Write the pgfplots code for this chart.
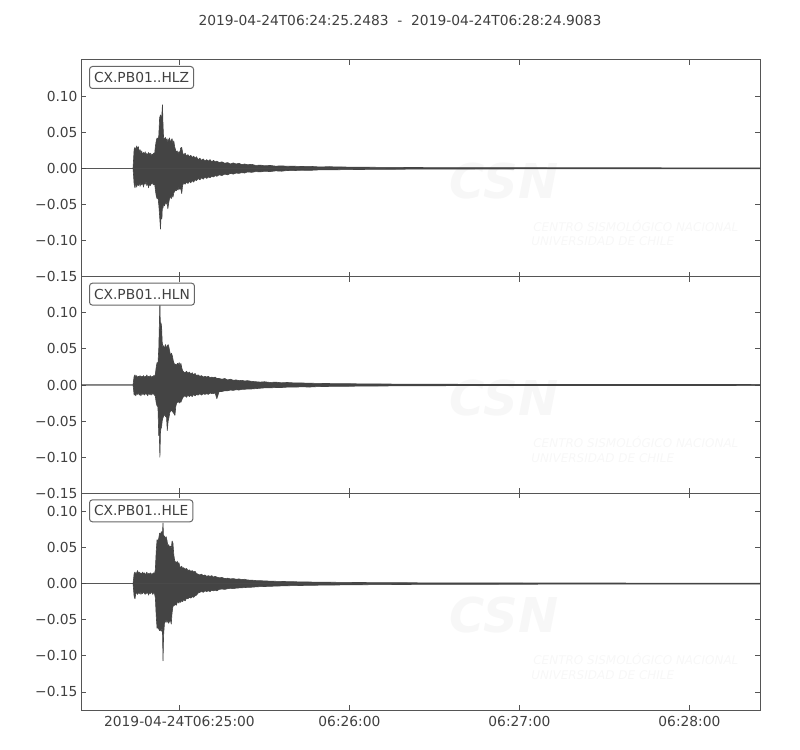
\documentclass[border=0pt]{standalone}
\usepackage{fontspec}
\setmainfont{DejaVu Sans}
\usepackage{pgfplots}
\pgfplotsset{compat=1.18}
\usepackage{pgfplotstable}

\definecolor{seiscol}{HTML}{444444}
\definecolor{framecol}{HTML}{555555}
\definecolor{txtcol}{HTML}{404040}
\definecolor{boxcol}{HTML}{666666}
\definecolor{wmcol}{HTML}{F7F7F7}

% envelope of each trace: seconds after 06:24:00, upper, lower
\pgfplotstableread{
t up lo
25.2483 0 0
43.6 0 0
43.8 0.012 -0.010
44.0 0.026 -0.022
44.3 0.029 -0.027
44.6 0.024 -0.020
44.9 0.031 -0.026
45.2 0.027 -0.021
45.5 0.030 -0.024
45.8 0.022 -0.019
46.1 0.026 -0.025
46.4 0.020 -0.020
46.7 0.024 -0.023
47.0 0.018 -0.019
47.3 0.022 -0.026
47.6 0.019 -0.020
47.9 0.023 -0.022
48.2 0.018 -0.018
48.5 0.021 -0.024
48.8 0.017 -0.020
49.1 0.022 -0.027
49.4 0.019 -0.021
49.7 0.021 -0.024
50.0 0.017 -0.020
50.3 0.020 -0.022
50.6 0.018 -0.019
50.9 0.021 -0.023
51.2 0.019 -0.020
51.5 0.030 -0.030
51.8 0.038 -0.038
52.1 0.042 -0.042
52.4 0.040 -0.040
52.7 0.045 -0.050
53.0 0.070 -0.066
53.3 0.074 -0.084
53.6 0.066 -0.060
53.8 0.075 -0.070
54.0 0.088 -0.050
54.2 0.060 -0.055
54.4 0.042 -0.048
54.7 0.040 -0.052
55.0 0.043 -0.046
55.3 0.038 -0.050
55.6 0.041 -0.045
55.9 0.036 -0.056
56.2 0.040 -0.048
56.5 0.042 -0.042
56.8 0.035 -0.038
57.1 0.039 -0.042
57.4 0.041 -0.036
57.7 0.034 -0.040
58.0 0.038 -0.034
58.3 0.030 -0.032
58.6 0.026 -0.030
58.9 0.022 -0.031
59.2 0.024 -0.028
59.5 0.020 -0.030
59.8 0.023 -0.026
60.1 0.021 -0.029
60.4 0.028 -0.027
60.8 0.029 -0.035
61.1 0.022 -0.024
61.5 0.018 -0.020
62.0 0.021 -0.022
62.5 0.017 -0.019
63.0 0.019 -0.021
63.5 0.016 -0.018
64.0 0.018 -0.020
64.5 0.015 -0.017
65.0 0.017 -0.019
65.5 0.014 -0.016
66.0 0.016 -0.017
66.6 0.012 -0.014
67.2 0.014 -0.016
67.8 0.011 -0.013
68.4 0.013 -0.015
69.0 0.010 -0.012
69.6 0.012 -0.014
70.2 0.010 -0.012
70.8 0.012 -0.013
71.4 0.009 -0.011
72.0 0.011 -0.012
72.6 0.009 -0.010
73.2 0.010 -0.011
74.0 0.008 -0.009
75.0 0.009 -0.010
76.0 0.007 -0.008
77.0 0.008 -0.009
78.0 0.006 -0.007
79.0 0.0075 -0.008
80.0 0.006 -0.0065
81.0 0.007 -0.007
82.0 0.005 -0.006
83.0 0.006 -0.0065
84.0 0.005 -0.005
85.5 0.0055 -0.0055
87.0 0.004 -0.0045
88.5 0.0045 -0.005
90.0 0.0035 -0.004
92.0 0.004 -0.0045
94.0 0.003 -0.0035
96.0 0.0035 -0.004
98.0 0.0028 -0.003
100 0.003 -0.0032
103 0.0025 -0.0026
106 0.0028 -0.0028
109 0.002 -0.0022
113 0.0022 -0.0022
118 0.0018 -0.0018
124 0.0016 -0.0016
130 0.0014 -0.0014
140 0.0012 -0.0012
150 0.001 -0.001
170 0.0009 -0.0009
190 0.0008 -0.0008
210 0.0008 -0.0008
240 0.0007 -0.0007
264.9083 0.0006 -0.0006
}\hlz

\pgfplotstableread{
t up lo
25.2483 0 0
43.6 0 0
43.8 0.006 -0.006
44.0 0.012 -0.014
44.3 0.014 -0.012
44.6 0.011 -0.015
44.9 0.013 -0.011
45.2 0.010 -0.013
45.5 0.012 -0.010
45.8 0.011 -0.014
46.1 0.013 -0.012
46.4 0.010 -0.015
46.7 0.012 -0.011
47.0 0.011 -0.013
47.3 0.013 -0.012
47.6 0.010 -0.014
47.9 0.012 -0.011
48.2 0.011 -0.013
48.5 0.014 -0.012
48.8 0.010 -0.015
49.1 0.012 -0.011
49.4 0.011 -0.013
49.7 0.013 -0.012
50.0 0.010 -0.014
50.3 0.012 -0.011
50.6 0.011 -0.013
50.9 0.013 -0.012
51.2 0.012 -0.014
51.5 0.015 -0.016
51.8 0.025 -0.025
52.1 0.031 -0.029
52.4 0.029 -0.030
52.7 0.050 -0.070
52.9 0.083 -0.070
53.1 0.118 -0.100
53.3 0.070 -0.065
53.5 0.086 -0.060
53.7 0.080 -0.058
53.9 0.060 -0.050
54.2 0.050 -0.045
54.5 0.055 -0.043
54.8 0.048 -0.040
55.1 0.056 -0.044
55.4 0.050 -0.042
55.7 0.054 -0.063
56.0 0.056 -0.050
56.3 0.052 -0.045
56.6 0.046 -0.038
56.9 0.040 -0.036
57.2 0.044 -0.035
57.5 0.040 -0.037
57.8 0.034 -0.038
58.1 0.030 -0.040
58.4 0.028 -0.042
58.7 0.029 -0.030
59.0 0.027 -0.025
59.3 0.030 -0.024
59.6 0.028 -0.022
59.9 0.031 -0.025
60.2 0.026 -0.023
60.5 0.030 -0.024
60.8 0.024 -0.021
61.1 0.020 -0.018
61.5 0.018 -0.016
62.0 0.017 -0.015
62.5 0.019 -0.017
63.0 0.016 -0.014
63.5 0.018 -0.016
64.0 0.015 -0.014
64.5 0.017 -0.016
65.0 0.014 -0.013
65.5 0.016 -0.015
66.0 0.013 -0.013
66.6 0.014 -0.014
67.2 0.012 -0.012
67.8 0.013 -0.014
68.4 0.011 -0.012
69.0 0.012 -0.013
69.6 0.011 -0.012
70.2 0.012 -0.013
70.8 0.010 -0.011
71.4 0.011 -0.012
72.0 0.010 -0.012
72.6 0.011 -0.011
73.2 0.009 -0.019
74.0 0.009 -0.009
75.0 0.008 -0.009
76.0 0.009 -0.008
77.0 0.007 -0.008
78.0 0.008 -0.007
79.0 0.0065 -0.0075
80.0 0.007 -0.0065
81.0 0.006 -0.007
82.0 0.0065 -0.006
83.0 0.0055 -0.006
84.0 0.006 -0.0055
85.5 0.005 -0.0055
87.0 0.0045 -0.005
88.5 0.004 -0.0045
90.0 0.0045 -0.004
92.0 0.0035 -0.004
94.0 0.004 -0.0035
96.0 0.003 -0.0035
98.0 0.0035 -0.003
100 0.003 -0.003
103 0.0028 -0.0026
106 0.0025 -0.0028
109 0.0022 -0.0022
113 0.002 -0.002
118 0.0018 -0.0018
124 0.0016 -0.0016
130 0.0014 -0.0014
140 0.0012 -0.0012
150 0.001 -0.001
170 0.0009 -0.0009
190 0.0008 -0.0008
210 0.0008 -0.0008
240 0.0007 -0.0007
264.9083 0.0006 -0.0006
}\hln

\pgfplotstableread{
t up lo
25.2483 0 0
43.6 0 0
43.8 0.006 -0.008
44.0 0.014 -0.018
44.3 0.016 -0.021
44.6 0.013 -0.014
44.9 0.015 -0.012
45.2 0.018 -0.015
45.5 0.014 -0.012
45.8 0.016 -0.014
46.1 0.013 -0.011
46.4 0.015 -0.015
46.7 0.012 -0.012
47.0 0.016 -0.014
47.3 0.013 -0.011
47.6 0.015 -0.013
47.9 0.012 -0.015
48.2 0.014 -0.012
48.5 0.016 -0.014
48.8 0.012 -0.011
49.1 0.014 -0.016
49.4 0.013 -0.012
49.7 0.015 -0.014
50.0 0.012 -0.011
50.3 0.014 -0.013
50.6 0.013 -0.015
50.9 0.015 -0.012
51.2 0.013 -0.014
51.5 0.020 -0.020
51.8 0.045 -0.045
52.1 0.061 -0.062
52.4 0.058 -0.060
52.7 0.063 -0.063
53.0 0.070 -0.065
53.3 0.068 -0.064
53.6 0.072 -0.066
53.8 0.070 -0.062
54.0 0.070 -0.064
54.2 0.084 -0.107
54.4 0.062 -0.072
54.7 0.066 -0.055
55.0 0.062 -0.053
55.3 0.065 -0.050
55.6 0.060 -0.054
55.9 0.052 -0.050
56.2 0.054 -0.055
56.5 0.050 -0.052
56.8 0.052 -0.050
57.1 0.048 -0.056
57.4 0.059 -0.040
57.7 0.056 -0.032
58.0 0.040 -0.030
58.3 0.032 -0.030
58.6 0.030 -0.028
58.9 0.028 -0.030
59.2 0.031 -0.026
59.5 0.027 -0.025
59.8 0.029 -0.027
60.1 0.024 -0.024
60.4 0.022 -0.026
60.8 0.024 -0.023
61.1 0.021 -0.025
61.5 0.022 -0.022
62.0 0.020 -0.024
62.5 0.021 -0.020
63.0 0.018 -0.021
63.5 0.019 -0.019
64.0 0.017 -0.020
64.5 0.018 -0.018
65.0 0.016 -0.019
65.5 0.017 -0.017
66.0 0.014 -0.016
66.6 0.013 -0.013
67.2 0.012 -0.012
67.8 0.013 -0.011
68.4 0.011 -0.012
69.0 0.012 -0.010
69.6 0.010 -0.011
70.2 0.011 -0.010
70.8 0.010 -0.011
71.4 0.011 -0.009
72.0 0.009 -0.010
72.6 0.010 -0.009
73.2 0.009 -0.010
74.0 0.008 -0.008
75.0 0.0085 -0.0075
76.0 0.007 -0.008
77.0 0.0075 -0.007
78.0 0.0065 -0.0065
79.0 0.007 -0.007
80.0 0.006 -0.0062
81.0 0.0065 -0.006
82.0 0.0055 -0.0058
83.0 0.006 -0.0055
84.0 0.005 -0.0052
85.5 0.0048 -0.005
87.0 0.0042 -0.0045
88.5 0.004 -0.0042
90.0 0.0038 -0.004
92.0 0.0034 -0.0038
94.0 0.0032 -0.0034
96.0 0.003 -0.0032
98.0 0.0028 -0.003
100 0.0026 -0.0028
103 0.0024 -0.0026
106 0.0022 -0.0024
109 0.002 -0.0022
113 0.0019 -0.002
118 0.0017 -0.0018
124 0.0015 -0.0016
130 0.0014 -0.0014
140 0.0012 -0.0012
150 0.001 -0.001
170 0.0009 -0.0009
190 0.0008 -0.0008
210 0.0008 -0.0008
240 0.0007 -0.0007
264.9083 0.0006 -0.0006
}\hle

\tikzset{
  trace/.style={draw=seiscol, fill=seiscol, line width=0.6bp, line join=round},
  stlabel/.style={anchor=north west, xshift=8bp, yshift=-6bp,
    draw=boxcol, line width=1bp, rounded corners=3bp, fill=white,
    inner xsep=4.5bp, inner ysep=0pt, minimum height=22bp,
    text=txtcol, font=\fontsize{13.8bp}{16bp}\selectfont},
  wmbig/.style={text=wmcol, font=\fontsize{48bp}{50bp}\selectfont\bfseries\itshape},
  wmsmall/.style={text=wmcol, anchor=west, font=\fontsize{12bp}{14bp}\selectfont\itshape},
}

\pgfplotsset{
  seis/.style={
    scale only axis,
    width=679bp, height=216.67bp,
    xmin=25.2483, xmax=264.9083,
    ymin=-0.15, ymax=0.15,
    xtick={60,120,180,240},
    xticklabels={},
    ytick={-0.15,-0.10,-0.05,0,0.05,0.10},
    yticklabels={−0.15,−0.10,−0.05,0.00,0.05,0.10},
    tick align=inside,
    major tick length=5bp,
    axis line style={framecol, line width=1bp},
    every tick/.style={framecol, line width=0.8bp},
    tick label style={font=\fontsize{13.8bp}{16bp}\selectfont, text=txtcol},
    xticklabel style={yshift=-3bp},
    anchor=south west,
  },
}

\newcommand{\watermark}{%
  \node[wmbig] at (rel axis cs:0.623,0.44) {CSN};
  \node[wmsmall] at (rel axis cs:0.661,0.236) {CENTRO SISMOLÓGICO NACIONAL};
  \node[wmsmall] at (rel axis cs:0.658,0.162) {UNIVERSIDAD DE CHILE};
}

\begin{document}
\begin{tikzpicture}
\path[use as bounding box] (0,0) rectangle (800bp,750bp);

\node[text=txtcol, font=\fontsize{13.8bp}{16bp}\selectfont] at (400bp,730bp)
  {2019-04-24T06:24:25.2483\ \ -\ \ 2019-04-24T06:28:24.9083};

% HLZ
\begin{axis}[seis, at={(81bp,473.33bp)}]
\watermark
\addplot[trace] table[x=t, y=up] {\hlz} \closedcycle;
\addplot[trace] table[x=t, y=lo] {\hlz} \closedcycle;
\node[stlabel] at (rel axis cs:0,1) {CX.PB01..HLZ};
\end{axis}

% HLN
\begin{axis}[seis, at={(81bp,256.67bp)}]
\watermark
\addplot[trace] table[x=t, y=up] {\hln} \closedcycle;
\addplot[trace] table[x=t, y=lo] {\hln} \closedcycle;
\node[stlabel] at (rel axis cs:0,1) {CX.PB01..HLN};
\end{axis}

% HLE
\begin{axis}[seis, at={(81bp,40bp)},
  ymin=-0.175, ymax=0.125,
  xticklabels={2019-04-24T06:25:00,06:26:00,06:27:00,06:28:00}]
\watermark
\addplot[trace] table[x=t, y=up] {\hle} \closedcycle;
\addplot[trace] table[x=t, y=lo] {\hle} \closedcycle;
\node[stlabel] at (rel axis cs:0,1) {CX.PB01..HLE};
\end{axis}
\end{tikzpicture}
\end{document}
